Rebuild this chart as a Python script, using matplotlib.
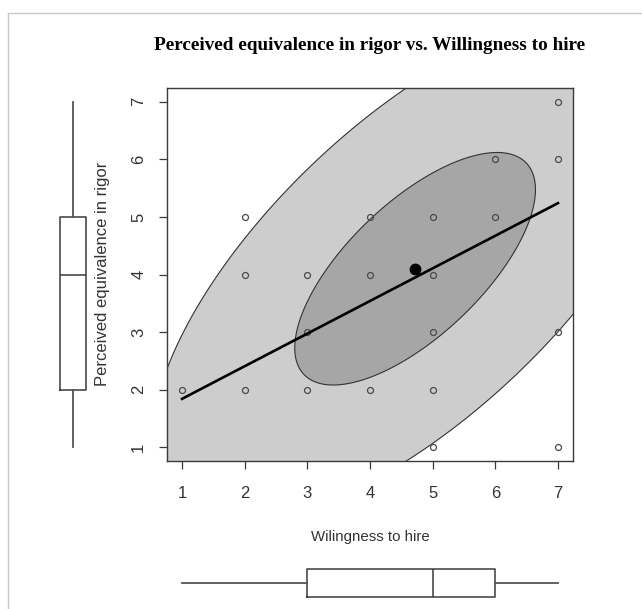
import matplotlib
matplotlib.use("Agg")
import matplotlib.pyplot as plt
import numpy as np
from matplotlib.lines import Line2D

# observed (willingness, rigor) pairs
hire = [1, 2, 2, 2, 3, 3, 3, 4, 4, 4, 5, 5, 5, 5, 5, 6, 6, 7, 7, 7, 7]
rigor = [2, 5, 4, 2, 4, 3, 2, 5, 4, 2, 5, 4, 3, 2, 1, 6, 5, 7, 6, 3, 1]

# robust centre, hinge covariance and fence scale of the bivariate boxplot
center = (4.72, 4.10)
hinge_cov = [[3.69, 2.64], [2.64, 4.08]]
fence_scale = 2.19

# fitted line end points
line_x = [1, 7]
line_y = [1.84, 5.24]

# marginal boxplot summaries
hire_box = dict(whislo=1, q1=3, med=5, q3=6, whishi=7, fliers=[])
rigor_box = dict(whislo=1, q1=2, med=4, q3=5, whishi=7, fliers=[])

ticks = [1, 2, 3, 4, 5, 6, 7]
W, H = 642, 609


def ellipse(cov, scale, n=300):
    t = np.linspace(0, 2 * np.pi, n)
    L = np.linalg.cholesky(np.asarray(cov))
    pts = scale * (L @ np.vstack([np.cos(t), np.sin(t)]))
    return center[0] + pts[0], center[1] + pts[1]


def frac(left, top, right, bottom):
    return [left / W, 1 - bottom / H, (right - left) / W, (bottom - top) / H]


plt.rcParams["font.family"] = ["Liberation Sans", "DejaVu Sans"]
fig = plt.figure(figsize=(W / 100, H / 100), dpi=100)
ink = "#3a3a3a"

ax = fig.add_axes(frac(167, 88, 573, 461))
ax.set_xlim(0.76, 7.24)
ax.set_ylim(0.76, 7.24)

ox, oy = ellipse(hinge_cov, fence_scale)
ax.fill(ox, oy, facecolor="#cdcdcd", edgecolor="#333333", linewidth=0.8, zorder=1)
ix, iy = ellipse(hinge_cov, 1.0)
ax.fill(ix, iy, facecolor="#a6a6a6", edgecolor="#333333", linewidth=0.8, zorder=2)

ax.plot(hire, rigor, "o", markersize=4.3, markerfacecolor="none",
        markeredgecolor="#4a4a4a", markeredgewidth=0.9, zorder=3)
ax.plot(line_x, line_y, color="black", linewidth=1.9, zorder=4)
ax.plot(*center, "o", color="black", markersize=7.5, zorder=5)

ax.set_xticks(ticks)
ax.set_yticks(ticks)
ax.tick_params(axis="both", length=6, width=0.9, color=ink, labelsize=12,
               labelcolor="#333333")
ax.tick_params(axis="x", pad=12)
ax.tick_params(axis="y", pad=9)
for lab in ax.get_yticklabels():
    lab.set_rotation(90)
    lab.set_va("center")
for sp in ax.spines.values():
    sp.set_color(ink)
    sp.set_linewidth(1.0)

ax.set_xlabel("Wilingness to hire", fontsize=10.8, color="#333333", labelpad=21)
ax.set_title("Perceived equivalence in rigor vs. Willingness to hire",
             family="Liberation Serif", fontweight="bold", fontsize=13.9, pad=27)
fig.text(103 / W, 1 - 274 / H, "Perceived equivalence in rigor", rotation=90,
         ha="center", va="center", fontsize=12, color="#333333")

box_style = dict(showcaps=False,
                 boxprops=dict(color=ink, linewidth=1.1),
                 whiskerprops=dict(color="#555555", linewidth=1.3),
                 medianprops=dict(color=ink, linewidth=1.1))

lax = fig.add_axes(frac(50, 88, 96, 461), sharey=ax)
lax.bxp([rigor_box], positions=[0.5], widths=27 / 46, **box_style)
lax.set_xlim(0, 1)
lax.axis("off")

bax = fig.add_axes(frac(167, 560, 573, 606), sharex=ax)
bax.bxp([hire_box], positions=[0.5], widths=28 / 46, orientation="horizontal", **box_style)
bax.set_ylim(0, 1)
bax.axis("off")

# screenshot frame edges
fig.add_artist(Line2D([8 / W, 1], [1 - 12.5 / H] * 2, transform=fig.transFigure,
                      color="#c8c8c8", linewidth=1.0))
fig.add_artist(Line2D([8 / W] * 2, [0, 1 - 12.5 / H], transform=fig.transFigure,
                      color="#c8c8c8", linewidth=1.0))

fig.savefig("out.png", dpi=100, facecolor="white")
